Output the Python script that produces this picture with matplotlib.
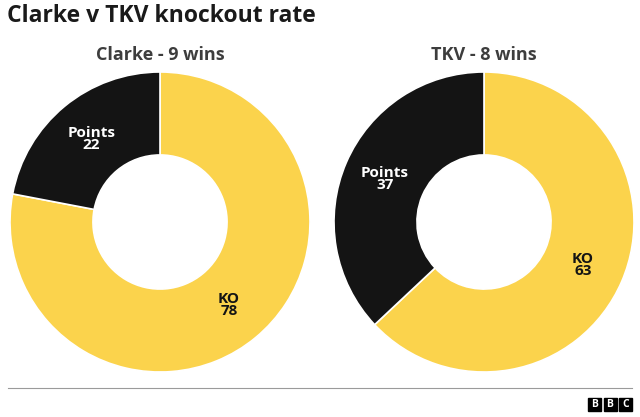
import matplotlib.pyplot as plt
import matplotlib.patches as mpatches
import numpy as np

W, H = 640, 417

boxers = ["Clarke - 9 wins", "TKV - 8 wins"]
slice_labels = ["KO", "Points"]
clarke_vals = [78, 22]
tkv_vals = [63, 37]
centres_x = [160, 484]

YELLOW = "#FBD34C"
BLACK = "#141414"
FONT = ["Open Sans", "DejaVu Sans"]

fig = plt.figure(figsize=(W / 100, H / 100), dpi=100)
fig.patch.set_facecolor("white")

fig.text(7 / W, 1 - 16 / H, "Clarke v TKV knockout rate", fontsize=16.5,
         fontweight="bold", family=FONT, color="#1a1a1a", ha="left", va="center")

R = 150
for title, vals, cx in zip(boxers, [clarke_vals, tkv_vals], centres_x):
    cy = 222
    ax = fig.add_axes([(cx - R) / W, (H - cy - R) / H, 2 * R / W, 2 * R / H])
    wedges, _ = ax.pie(vals, colors=[YELLOW, BLACK], startangle=90,
                       counterclock=False, radius=1,
                       wedgeprops=dict(width=0.553, linewidth=1.2, edgecolor="white"))
    ax.set_xlim(-1, 1)
    ax.set_ylim(-1, 1)
    ax.set_aspect("equal")
    ax.axis("off")

    for lab, v, w in zip(slice_labels, vals, wedges):
        mid = np.deg2rad((w.theta1 + w.theta2) / 2)
        r = 0.72
        col = "#141414" if lab == "KO" else "white"
        ax.text(r * np.cos(mid), r * np.sin(mid), f"{lab}\n{v}", ha="center",
                va="center", fontsize=11, fontweight="bold", color=col,
                family=FONT, linespacing=0.82)

    fig.text(cx / W, 1 - 55 / H, title, fontsize=13, fontweight="bold",
             family=FONT, color="#3d3d3d", ha="center", va="center")

# footer line
fig.add_artist(plt.Line2D([8 / W, 632 / W], [1 - 388 / H, 1 - 388 / H],
                          color="#9a9a9a", linewidth=0.8))

# BBC logo
for i, ch in enumerate("BBC"):
    x0 = 588 + i * 15.5
    fig.add_artist(mpatches.Rectangle((x0 / W, 1 - 411 / H), 13 / W, 13 / H,
                                      transform=fig.transFigure, color="black"))
    fig.text((x0 + 6.5) / W, 1 - 404.5 / H, ch, fontsize=7.5, fontweight="bold",
             color="white", ha="center", va="center", family=FONT)

fig.savefig("out.png", dpi=100)
